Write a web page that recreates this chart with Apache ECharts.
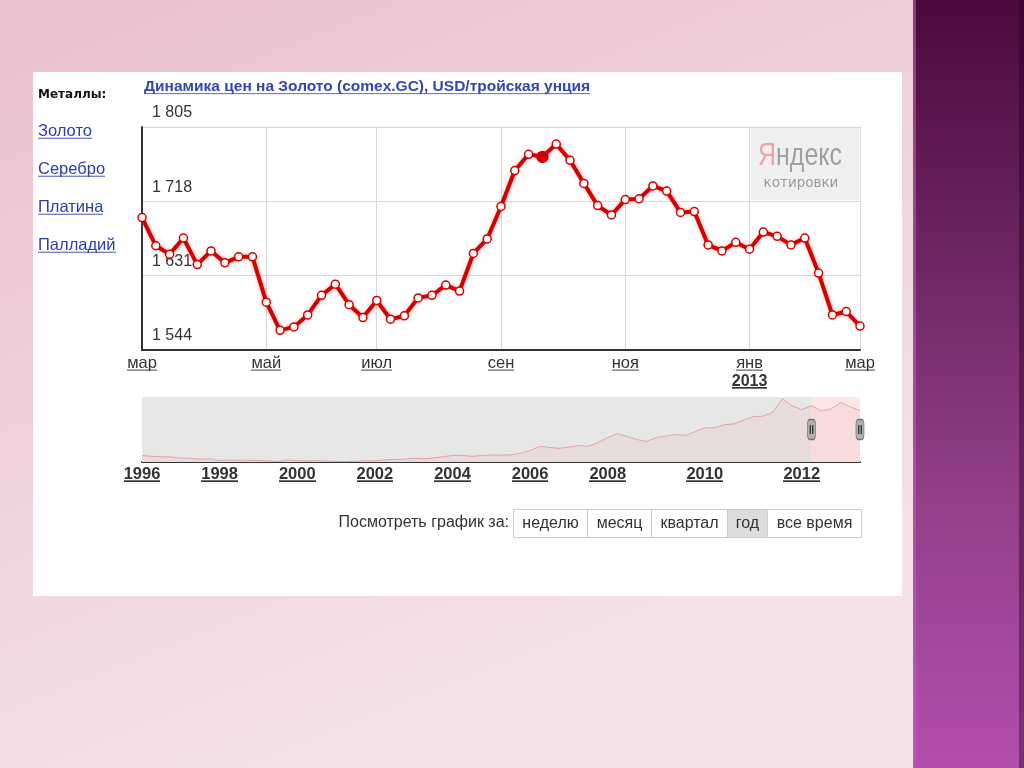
<!DOCTYPE html>
<html><head><meta charset="utf-8">
<script src="https://cdn.jsdelivr.net/npm/echarts@6/dist/echarts.min.js"></script>
<style>html,body{margin:0;padding:0;overflow:hidden;background:#fff}#c{width:1024px;height:768px}</style>
</head><body><div id="c"></div>
<script>
// ---------- data ----------
const categories = [
 '2012-03-05','2012-03-12','2012-03-19','2012-03-26','2012-04-02','2012-04-09','2012-04-16','2012-04-23','2012-04-30',
 '2012-05-07','2012-05-14','2012-05-21','2012-05-28','2012-06-04','2012-06-11','2012-06-18','2012-06-25',
 '2012-07-02','2012-07-09','2012-07-16','2012-07-23','2012-07-30','2012-08-06','2012-08-13','2012-08-20','2012-08-27',
 '2012-09-03','2012-09-10','2012-09-17','2012-09-24','2012-10-01','2012-10-08','2012-10-15','2012-10-22','2012-10-29',
 '2012-11-05','2012-11-12','2012-11-19','2012-11-26','2012-12-03','2012-12-10','2012-12-17','2012-12-24','2012-12-31',
 '2013-01-07','2013-01-14','2013-01-21','2013-01-28','2013-02-04','2013-02-11','2013-02-18','2013-02-25','2013-03-04'
];
const goldPrices = [1699,1666,1656,1675,1644,1660,1646,1653,1653,1600,1567,1571,1585,1608,1621,1597,1582,1602,1580,1584,1605,1608,1620,1613,1657,1674,1712,1754,1773,1770,1785,1766,1739,1713,1702,1720,1721,1736,1730,1705,1706,1667,1660,1670,1662,1682,1677,1667,1675,1634,1585,1589,1572];
const highlightIndex = 29;
const yMin = 1544, yMax = 1805, yStep = 87;
const monthNames = ['янв','фев','мар','апр','май','июн','июл','авг','сен','окт','ноя','дек'];

const navDates = [
 '1996-01-01','1996-04-01','1996-07-01','1996-10-01','1997-01-01','1997-04-01','1997-07-01','1997-10-01',
 '1998-01-01','1998-04-01','1998-07-01','1998-10-01','1999-01-01','1999-04-01','1999-07-01','1999-10-01',
 '2000-01-01','2000-04-01','2000-07-01','2000-10-01','2001-01-01','2001-04-01','2001-07-01','2001-10-01',
 '2002-01-01','2002-04-01','2002-07-01','2002-10-01','2003-01-01','2003-04-01','2003-07-01','2003-10-01',
 '2004-01-01','2004-04-01','2004-07-01','2004-10-01','2005-01-01','2005-04-01','2005-07-01','2005-10-01',
 '2006-01-01','2006-04-01','2006-07-01','2006-10-01','2007-01-01','2007-04-01','2007-07-01','2007-10-01',
 '2008-01-01','2008-03-05','2008-05-26','2008-08-20','2008-10-05','2009-01-01','2009-03-05','2009-05-26','2009-08-20','2009-10-05',
 '2010-01-01','2010-03-05','2010-05-26','2010-08-20','2010-10-05','2011-01-01','2011-03-05','2011-05-26','2011-08-20','2011-10-05',
 '2012-01-01','2012-03-05','2012-05-26','2012-08-20','2012-10-05','2013-01-01','2013-03-04'
];
const navPrices = [
 415,395,385,380, 355,345,325,325, 290,300,295,295, 288,282,262,300,
 285,280,285,272, 268,260,268,285, 280,305,318,320, 350,330,350,385,
 420,420,395,415, 430,428,432,470, 545,650,625,600, 635,675,655,750,
 880,985,910,830,780, 880,920,955,935,1030,
 1130,1130,1210,1230,1330, 1420,1430,1530,1880,1700,
 1600,1699,1571,1613,1785, 1670,1572
];
const navYearLabels = ['1996','1998','2000','2002','2004','2006','2008','2010','2012'];
const selectionStart = '2012-03-05';
const navMin = 250, navMax = 1925;

const titleText = 'Динамика цен на Золото (comex.GC), USD/тройская унция';
const metalsHeader = 'Металлы:';
const metals = ['Золото','Серебро','Платина','Палладий'];
const periodPrompt = 'Посмотреть график за:';
const periods = ['неделю','месяц','квартал','год','все время'];
const activePeriod = 'год';

// ---------- helpers ----------
const FF = '"Liberation Sans", Arial, sans-serif';
function underline(color, h, thick){
  const c = document.createElement('canvas'); c.width = 4; c.height = h;
  const g = c.getContext('2d'); g.fillStyle = color; g.fillRect(0, h - thick - 1, 4, thick);
  return c;
}
const ulDark = underline('#333333', 18, 1);
const ulDarkB = underline('#333333', 19, 2);
const ulBlue = underline('#2b3bb0', 19, 1);
const ulBlueT = underline('#3347b0', 19, 1);

function isMonthTick(i){
  if (i === 0) return true;
  const m = +categories[i].slice(5,7), pm = +categories[i-1].slice(5,7);
  return m !== pm && m % 2 === 1;
}
function fmtThousands(v){ const s = String(Math.round(v)); return s.length > 3 ? s.slice(0,-3) + ' ' + s.slice(-3) : s; }

// ---------- graphic page chrome ----------
const graphics = [
  {type:'rect', z:-100, shape:{x:0,y:0,width:1024,height:768},
   style:{fill:{type:'linear',x:0,y:0,x2:0.3,y2:1,colorStops:[{offset:0,color:'#eac1ce'},{offset:1,color:'#f4e2e6'}]}}},
  {type:'rect', z:-99, shape:{x:913,y:0,width:111,height:768},
   style:{fill:{type:'linear',x:0,y:0,x2:0,y2:1,colorStops:[{offset:0,color:'#4b0a3b'},{offset:0.35,color:'#6e2764'},{offset:0.65,color:'#933f8a'},{offset:1,color:'#b24ead'}]}}},
  {type:'rect', z:-98, shape:{x:913,y:0,width:3,height:768}, style:{fill:'rgba(210,90,200,0.55)'}},
  {type:'rect', z:-98, shape:{x:1019,y:0,width:5,height:768}, style:{fill:'rgba(35,0,30,0.4)'}},
  {type:'rect', z:-97, shape:{x:33,y:72,width:869,height:524}, style:{fill:'#ffffff'}},
  {type:'text', z:5, x:38, y:95, style:{text:metalsHeader, fill:'#111', font:'bold 12px "DejaVu Sans", Verdana, sans-serif', verticalAlign:'middle'}},
  {type:'text', z:5, x:144, y:87, style:{text:'{t|'+titleText+'}', verticalAlign:'middle',
     rich:{t:{fill:'#3347b0', fontWeight:'bold', fontSize:15.5, fontFamily:FF, lineHeight:19, backgroundColor:{image:ulBlueT}}}}},
  {type:'text', z:5, x:509, y:523, style:{text:periodPrompt, fill:'#333', font:'16px '+FF, align:'right', verticalAlign:'middle'}},
  // Yandex watermark
  {type:'rect', z:1, shape:{x:751,y:128,width:108,height:72}, style:{fill:'#f0f0f0'}},
  {type:'text', z:1, x:800, y:156, scaleX:0.78, style:{text:'{r|Я}{g|ндекс}', align:'center', verticalAlign:'middle',
     rich:{r:{fill:'#eba3a3', fontSize:32, fontFamily:FF}, g:{fill:'#a0a0a0', fontSize:32, fontFamily:FF}}}},
  {type:'text', z:1, x:801, y:183, style:{text:'котировки', fill:'#9a9a9a', font:'13.5px "DejaVu Sans", sans-serif', align:'center', verticalAlign:'middle'}}
];
const linkY = [131,169,207,245];
metals.forEach((m,i)=>graphics.push({type:'text', z:5, x:38, y:linkY[i], style:{text:'{l|'+m+'}', verticalAlign:'middle',
   rich:{l:{fill:'#2b3bb0', fontSize:16.5, fontFamily:FF, lineHeight:19, backgroundColor:{image:ulBlue}}}}}));
const cellX = [513,587,651,727,767,861];
periods.forEach((p,i)=>{
  graphics.push({type:'rect', z:4, shape:{x:cellX[i]+0.5,y:509.5,width:cellX[i+1]-cellX[i],height:28},
     style:{fill: p===activePeriod ? '#dcdcdc' : '#ffffff', stroke:'#cccccc', lineWidth:1}});
  graphics.push({type:'text', z:5, x:(cellX[i]+cellX[i+1])/2+0.5, y:524, style:{text:p, fill:'#333', font:'16px '+FF, align:'center', verticalAlign:'middle'}});
});

// ---------- chart ----------
const chart = echarts.init(document.getElementById('c'), null, {renderer:'canvas'});
chart.setOption({
  animation:false,
  graphic:graphics,
  grid:[
    {left:142, top:127, width:718, height:223, containLabel:false},
    {left:142, top:397, width:718, height:65, containLabel:false}
  ],
  xAxis:[
    {type:'category', gridIndex:0, data:categories, boundaryGap:false,
     axisLine:{lineStyle:{color:'#333', width:2}}, axisTick:{show:false},
     splitLine:{show:true, interval:(i)=>isMonthTick(i), lineStyle:{color:'#d8d8d8', width:1}},
     axisLabel:{interval:(i)=>isMonthTick(i), margin:4,
       formatter:(val)=>{ const m=+val.slice(5,7); let s='{u|'+monthNames[m-1]+'}'; if(m===1) s+='\n{ub|'+val.slice(0,4)+'}'; return s; },
       rich:{u:{color:'#333', fontSize:16.5, fontFamily:FF, lineHeight:18, backgroundColor:{image:ulDark}},
             ub:{color:'#333', fontSize:16, fontWeight:'bold', fontFamily:FF, lineHeight:19, backgroundColor:{image:ulDarkB}}}}},
    {type:'category', gridIndex:1, data:navDates, boundaryGap:false,
     axisLine:{lineStyle:{color:'#333', width:2}}, axisTick:{show:false}, splitLine:{show:false},
     axisLabel:{interval:(i,v)=>v.endsWith('-01-01') && navYearLabels.includes(v.slice(0,4)), margin:3,
       formatter:(v)=>'{y|'+v.slice(0,4)+'}',
       rich:{y:{color:'#333', fontSize:16.5, fontWeight:'bold', fontFamily:FF, lineHeight:19, backgroundColor:{image:ulDarkB}}}}}
  ],
  yAxis:[
    {type:'value', gridIndex:0, min:yMin, max:yMax, interval:yStep,
     axisLine:{show:true, lineStyle:{color:'#333', width:2}}, axisTick:{show:false},
     splitLine:{show:true, lineStyle:{color:'#d8d8d8', width:1}},
     axisLabel:{inside:true, margin:10, verticalAlign:'bottom', padding:[0,0,6,0], color:'#333', fontSize:16, fontFamily:FF, formatter:fmtThousands}},
    {type:'value', gridIndex:1, min:navMin, max:navMax, show:false}
  ],
  series:[
    {type:'line', xAxisIndex:1, yAxisIndex:1, data:navPrices, symbol:'none', silent:true, z:2,
     lineStyle:{color:'#e6a2a2', width:1}, areaStyle:{color:'rgba(238,160,160,0.22)'},
     markArea:{silent:true, data:[
        [{xAxis:navDates[0], itemStyle:{color:'#e7e7e7'}}, {xAxis:selectionStart}],
        [{xAxis:selectionStart, itemStyle:{color:'#fde7e7'}}, {xAxis:navDates[navDates.length-1]}]
     ]},
     markPoint:{silent:true, symbol:'roundRect', symbolSize:[8,20],
       itemStyle:{color:'#b0b0b0', borderColor:'#707070', borderWidth:1},
       label:{show:true, position:'inside', formatter:'||', color:'#222', fontSize:9, fontWeight:'bold'},
       data:[{coord:[selectionStart,(navMin+navMax)/2]},{coord:[navDates[navDates.length-1],(navMin+navMax)/2]}]}
    },
    {type:'line', xAxisIndex:0, yAxisIndex:0, z:3, showAllSymbol:true,
     data:goldPrices.map((v,i)=> i===highlightIndex ? {value:v, symbolSize:11, itemStyle:{color:'#d40000'}} : v),
     symbol:'circle', symbolSize:8,
     lineStyle:{color:'#d40000', width:4, shadowColor:'rgba(255,110,110,0.55)', shadowBlur:4},
     itemStyle:{color:'#ffffff', borderColor:'#d40000', borderWidth:1.5}}
  ]
});
</script></body></html>
